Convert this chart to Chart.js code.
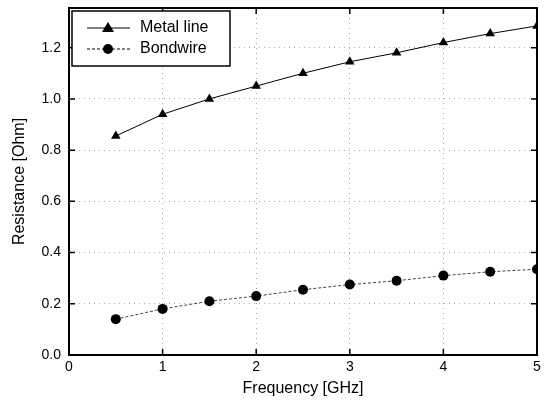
<!DOCTYPE html>
<html>
<head>
<meta charset="utf-8">
<script src="https://cdn.jsdelivr.net/npm/chart.js@4.4.1/dist/chart.umd.min.js"></script>
<style>
  html, body { margin: 0; padding: 0; background: #fff; }
  #wrap { width: 545px; height: 405px; }
</style>
</head>
<body>
<div id="wrap"><canvas id="chart1"></canvas></div>
<script>
var freq = [0.5, 1, 1.5, 2, 2.5, 3, 3.5, 4, 4.5, 5];
var metalLine = [0.855, 0.94, 1.0, 1.05, 1.10, 1.145, 1.18, 1.22, 1.255, 1.285];
var bondwire = [0.14, 0.18, 0.21, 0.23, 0.255, 0.275, 0.29, 0.31, 0.325, 0.335];
var seriesNames = ['Metal line', 'Bondwire'];
var xTitle = 'Frequency [GHz]';
var yTitle = 'Resistance [Ohm]';

var FONT = '"Liberation Sans", Arial, sans-serif';

function pts(ys) {
    return freq.map(function(f, i) { return { x: f, y: ys[i] }; });
}

// frame, inward ticks and legend box
var framePlugin = {
    id: 'frame',
    afterDraw: function(chart) {
        var c = chart.ctx, a = chart.chartArea;
        var xs = chart.scales.x, ys = chart.scales.y;
        c.save();
        c.strokeStyle = '#000';
        c.lineWidth = 2;
        c.strokeRect(a.left, a.top, a.right - a.left, a.bottom - a.top);
        c.lineWidth = 1.5;
        xs.ticks.forEach(function(t) {
            var px = xs.getPixelForValue(t.value);
            c.beginPath();
            c.moveTo(px, a.bottom); c.lineTo(px, a.bottom - 6);
            c.moveTo(px, a.top); c.lineTo(px, a.top + 6);
            c.stroke();
        });
        ys.ticks.forEach(function(t) {
            var py = ys.getPixelForValue(t.value);
            c.beginPath();
            c.moveTo(a.left, py); c.lineTo(a.left + 6, py);
            c.moveTo(a.right, py); c.lineTo(a.right - 6, py);
            c.stroke();
        });

        // legend
        var bx = a.left + 3, by = a.top + 3, bw = 158, bh = 55;
        c.fillStyle = '#fff';
        c.fillRect(bx, by, bw, bh);
        c.lineWidth = 1.5;
        c.strokeRect(bx, by, bw, bh);
        var ds = chart.data.datasets;
        ds.forEach(function(d, i) {
            var ly = by + 17 + i * 21;
            c.strokeStyle = '#000';
            c.lineWidth = 1;
            c.setLineDash(d.borderDash || []);
            c.beginPath();
            c.moveTo(bx + 15, ly); c.lineTo(bx + 58, ly);
            c.stroke();
            c.setLineDash([]);
            c.fillStyle = '#000';
            c.beginPath();
            if (d.pointStyle === 'triangle') {
                c.moveTo(bx + 36, ly - 6); c.lineTo(bx + 42, ly + 4); c.lineTo(bx + 30, ly + 4);
            } else {
                c.arc(bx + 36, ly, 5, 0, Math.PI * 2);
            }
            c.fill();
            c.font = '16px ' + FONT;
            c.textBaseline = 'middle';
            c.fillText(d.label, bx + 68, ly);
        });
        c.restore();
    }
};

var ctx = document.getElementById('chart1').getContext('2d');
var myChart = new Chart(ctx, {
    type: 'scatter',
    data: {
        datasets: [{
            label: seriesNames[0],
            data: pts(metalLine),
            showLine: true,
            borderColor: '#000',
            backgroundColor: '#000',
            borderWidth: 1,
            pointStyle: 'triangle',
            pointRadius: 5.5,
            pointBorderWidth: 0
        },
        {
            label: seriesNames[1],
            data: pts(bondwire),
            showLine: true,
            borderColor: '#444',
            backgroundColor: '#000',
            borderWidth: 1,
            borderDash: [3, 2],
            pointStyle: 'circle',
            pointRadius: 5,
            pointBorderWidth: 0
        }]
    },
    options: {
        responsive: true,
        maintainAspectRatio: false,
        animation: false,
        layout: { padding: { top: 8, right: 8, left: 0, bottom: 0 } },
        plugins: {
            legend: { display: false },
            tooltip: { enabled: false }
        },
        scales: {
            x: {
                type: 'linear',
                min: 0,
                max: 5,
                afterFit: function(s) { s.height = 50; },
                ticks: {
                    stepSize: 1,
                    color: '#000',
                    font: { family: FONT, size: 14 },
                    maxRotation: 0,
                    padding: 4
                },
                grid: { color: '#aaa', drawTicks: false, lineWidth: 1 },
                border: { display: false, dash: [1, 4] },
                title: {
                    display: true,
                    text: xTitle,
                    color: '#000',
                    font: { family: FONT, size: 16 },
                    padding: { top: 0, bottom: 7 }
                }
            },
            y: {
                min: 0,
                max: 1.355,
                afterFit: function(s) { s.width = 69; s.paddingTop = 0; s.paddingBottom = 0; },
                afterBuildTicks: function(s) {
                    s.ticks = [0, 0.2, 0.4, 0.6, 0.8, 1.0, 1.2].map(function(v) { return { value: v }; });
                },
                ticks: {
                    color: '#000',
                    font: { family: FONT, size: 14 },
                    padding: 8,
                    callback: function(v) { return v.toFixed(1); }
                },
                grid: { color: '#aaa', drawTicks: false, lineWidth: 1 },
                border: { display: false, dash: [1, 4] },
                title: {
                    display: true,
                    text: yTitle,
                    color: '#000',
                    font: { family: FONT, size: 16 },
                    padding: { top: 10, bottom: 0 }
                }
            }
        }
    },
    plugins: [framePlugin]
});
</script>
</body>
</html>
